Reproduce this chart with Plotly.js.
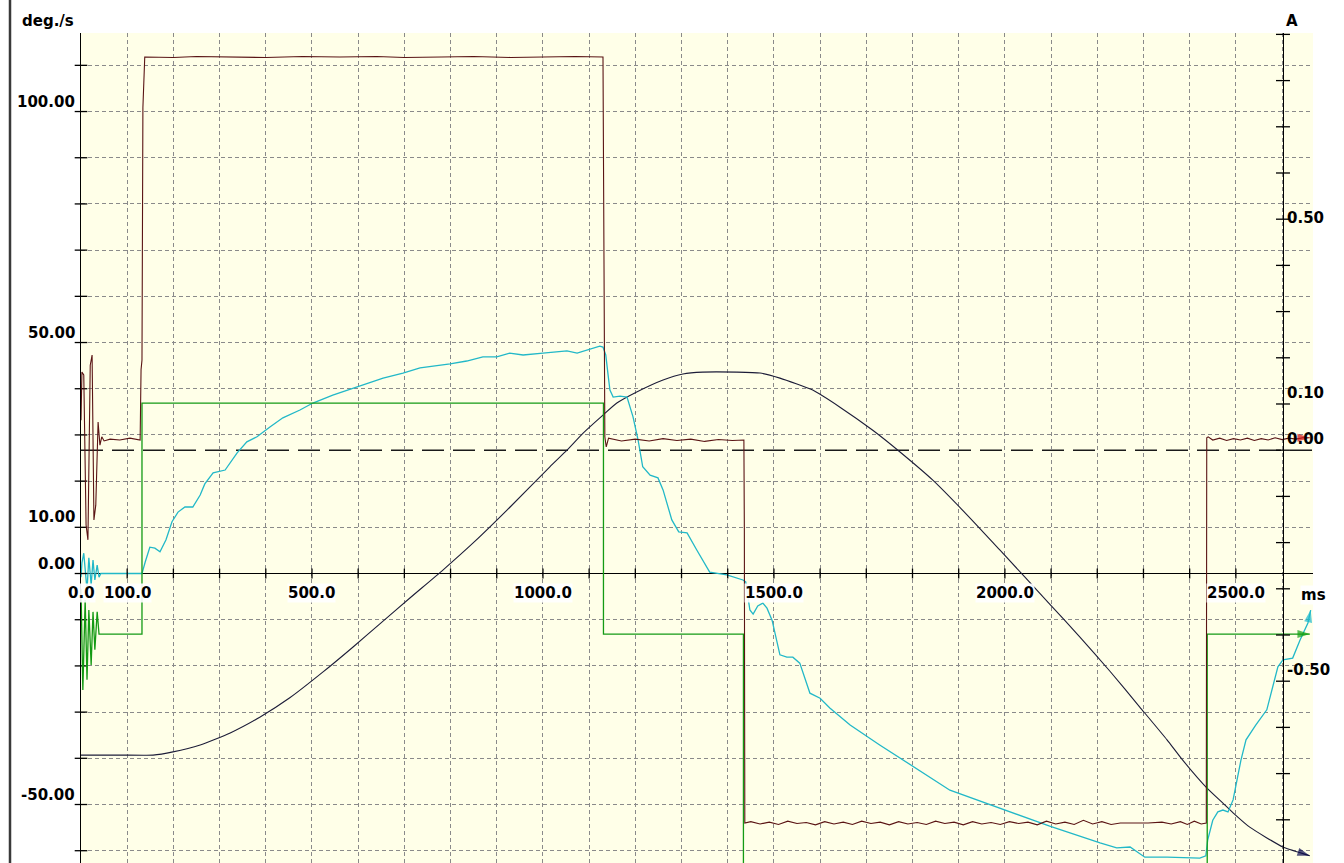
<!DOCTYPE html>
<html>
<head>
<meta charset="utf-8">
<script src="https://cdn.plot.ly/plotly-3.0.1.min.js"></script>
<style>
  html, body { margin: 0; padding: 0; background: #ffffff; }
  #chart { width: 1344px; height: 863px; }
</style>
</head>
<body>
<div id="chart"></div>
<script>
// ---------------- data (time in ms) ----------------
// Current-like square trace (right axis, A)
const maroonMs = [0,2,6,11,15,20,24,28,32,37,41,45,50,63,84,106,128,130,132,134,138,
  200,250,320,400,480,560,640,700,780,850,930,1000,1070,1130,
  1134,1137,1142,1170,1200,1230,1260,1290,1320,1350,1380,1410,1435,
  1436,1437,1450,1470,1490,1510,1530,1550,1570,1590,1610,1630,1650,1670,1690,1710,1730,1750,1770,1790,1810,1830,1850,1870,1890,1910,1930,1950,1970,1990,2010,2030,2050,2070,2090,2110,2130,2150,2170,2190,2210,2230,2250,2280,2310,2340,2360,2380,2395,2410,2425,2436,
  2437,2440,2450,2465,2480,2495,2510,2525,2540,2555,2570,2585,2600,2615,2630,2645,2660];
const maroonA = [0.065,0.169,0.163,-0.162,-0.194,0.184,0.206,-0.151,-0.119,0.061,0.011,0.029,0.020,0.024,0.022,0.026,0.022,0.174,0.195,0.741,0.851,
  0.850,0.852,0.851,0.850,0.852,0.851,0.852,0.850,0.851,0.852,0.850,0.851,0.852,0.851,
  0.029,0.007,0.026,0.020,0.024,0.020,0.025,0.021,0.024,0.019,0.023,0.021,0.022,
  -0.173,-0.807,-0.804,-0.809,-0.805,-0.810,-0.803,-0.808,-0.806,-0.811,-0.804,-0.809,-0.805,-0.810,-0.803,-0.808,-0.805,-0.811,-0.804,-0.809,-0.806,-0.810,-0.803,-0.808,-0.805,-0.811,-0.804,-0.809,-0.806,-0.810,-0.804,-0.808,-0.805,-0.811,-0.803,-0.809,-0.805,-0.810,-0.801,-0.809,-0.804,-0.810,-0.807,-0.807,-0.807,-0.805,-0.809,-0.804,-0.810,-0.803,-0.809,-0.807,
  0.027,0.029,0.022,0.026,0.021,0.025,0.022,0.026,0.021,0.025,0.022,0.027,0.023,0.026,0.024,0.027,0.027];

// Current command step trace (right axis, A)
const greenMs = [0,4,9,13,17,22,26,30,35,39,132,132,1131,1131,1434,1434,2438,2438,2660];
const greenA  = [-0.30,-0.519,-0.324,-0.497,-0.346,-0.465,-0.350,-0.432,-0.350,-0.398,-0.398,0.102,0.102,-0.398,-0.398,-1.0,-1.0,-0.398,-0.398];

// Velocity trace (left axis, deg./s)
const cyanMs = [0,2,6,11,13,17,22,26,30,35,39,43,132,139,149,160,171,184,197,210,225,242,258,268,286,312,338,359,381,409,437,474,502,545,597,626,654,697,734,799,835,870,900,928,957,1000,1052,1074,1102,1123,1130,1136,1141,1145,1152,1167,1182,1195,1206,1216,1232,1249,1260,1279,1294,1312,1333,1361,1398,1433,1439,1448,1455,1465,1476,1485,1496,1513,1528,1541,1556,1578,1600,1621,1665,1729,1881,1989,2097,2206,2242,2271,2303,2351,2422,2435,2439,2450,2461,2472,2483,2494,2511,2522,2543,2567,2591,2602,2623,2639,2656,2662];
const cyanDeg = [-0.8,2.3,4.4,-0.3,-3.6,3.4,-2.5,2.9,-1.4,1.8,-0.8,0,0,2.5,5.7,5.5,4.7,7.3,11.2,13.3,14.4,14.4,17.0,19.4,21.8,22.4,26.1,28.5,29.6,31.7,33.7,35.4,36.9,38.6,40.4,41.5,42.3,43.4,44.5,45.4,46.0,46.9,46.9,47.7,47.3,47.7,48.2,47.7,48.6,49.2,49.0,47.3,43.0,39.7,38.2,38.4,38.2,33.9,28.9,23.1,21.3,20.7,18.1,11.6,9.0,8.8,5.1,0.3,-0.3,-1.4,-1.8,-7.9,-8.8,-7.0,-6.4,-7.5,-10.1,-17.6,-18.1,-18.1,-19.4,-25.9,-27.0,-29.1,-32.8,-37.1,-46.9,-50.8,-54.7,-58.3,-59.4,-59.2,-61.4,-61.4,-61.6,-61.1,-57.7,-53.4,-51.6,-51.2,-51.6,-49.0,-40.4,-36.0,-32.8,-29.5,-20.2,-18.7,-18.3,-14.4,-10.7,-7.9];

// Position-like smooth trace (left axis scale)
const navyMs = [0,84,156,199,258,323,387,452,524,589,647,712,784,853,929,1015,1052,1087,1130,1160,1203,1260,1303,1346,1420,1470,1513,1584,1643,1714,1773,1844,1918,1989,2097,2162,2227,2292,2351,2385,2437,2472,2494,2530,2602,2654,2660];
const navyVal = [-39.3,-39.3,-39.3,-38.6,-37.1,-34.5,-31.1,-26.9,-21.3,-15.9,-10.9,-5.3,0.8,7.0,14.4,23.1,26.7,30.4,34.3,36.9,39.3,41.9,43.2,43.6,43.6,43.4,42.3,39.7,36.0,31.0,26.3,20.2,12.7,5.1,-6.6,-13.7,-21.1,-28.9,-36.0,-40.4,-46.4,-49.7,-51.8,-54.9,-59.2,-60.9,-61.1];

// axis ticks and labels
const xTickMs = [100,200,300,400,500,600,700,800,900,1000,1100,1200,1300,1400,1500,1600,1700,1800,1900,2000,2100,2200,2300,2400,2500];
const xLabelMs = [0,100,500,1000,1500,2000,2500];
const xLabelText = ['0.0','100.0','500.0','1000.0','1500.0','2000.0','2500.0'];
const leftTicks = [-60,-50,-40,-30,-20,-10,0,10,20,30,40,50,60,70,80,90,100,110];
const leftLabelVals = [100,50,10,0,-50];
const leftLabelText = ['100.00','50.00','10.00','0.00','-50.00'];
const rightTicks = [-0.8,-0.7,-0.6,-0.5,-0.4,-0.3,-0.2,-0.1,0,0.1,0.2,0.3,0.4,0.5,0.6,0.7,0.8,0.9];
const rightLabelVals = [0.5,0.1,0.0,-0.5];
const rightLabelText = ['0.50','0.10','0.00','-0.50'];

// ---------------- layout geometry ----------------
const W = 1344, H = 863;
const M = {l: 81, r: 31, t: 33, b: 0};
const plotW = W - M.l - M.r, plotH = H - M.t - M.b;
const X_RANGE = [0, 2667];
const Y_RANGE = [-62.66, 117.0];
const Y2_RANGE = [-0.8935, 0.903];
const RIGHT_AXIS_MS = 2602;
const rightAxisPos = (RIGHT_AXIS_MS - X_RANGE[0]) / (X_RANGE[1] - X_RANGE[0]);
const pxX = px => (px - M.l) / plotW;      // paper x from pixel
const pxY = py => (H - M.b - py) / plotH;  // paper y from pixel

const FONT = {family: 'DejaVu Sans, Arial, sans-serif', size: 15, color: '#000000', weight: 'bold'};

function arrowSizes(arr, s) { return arr.map((v, i) => i === arr.length - 1 ? s : 0); }

const traces = [
  {x: greenMs, y: greenA, yaxis: 'y2', type: 'scatter', mode: 'lines+markers',
   line: {color: '#149a14', width: 1.3},
   marker: {symbol: 'arrow', angleref: 'previous', size: arrowSizes(greenMs, 13), color: '#10a010', line: {width: 0}},
   cliponaxis: false, hoverinfo: 'skip'},
  {x: maroonMs, y: maroonA, yaxis: 'y2', type: 'scatter', mode: 'lines+markers',
   line: {color: '#5a1414', width: 1.1},
   marker: {symbol: 'arrow', angleref: 'previous', size: arrowSizes(maroonMs, 13), color: '#d01010', line: {width: 0}},
   cliponaxis: false, hoverinfo: 'skip'},
  {x: navyMs, y: navyVal, type: 'scatter', mode: 'lines+markers',
   line: {color: '#1c1c38', width: 1.1, shape: 'spline', smoothing: 0.5},
   marker: {symbol: 'arrow', angleref: 'previous', size: arrowSizes(navyMs, 13), color: '#0c0c50', line: {width: 0}},
   cliponaxis: false, hoverinfo: 'skip'},
  {x: cyanMs, y: cyanDeg, type: 'scatter', mode: 'lines+markers',
   line: {color: '#22b8c8', width: 1.3},
   marker: {symbol: 'arrow', angleref: 'previous', size: arrowSizes(cyanMs, 13), color: '#18b8cc', line: {width: 0}},
   cliponaxis: false, hoverinfo: 'skip'},
  // axis tick marks (crossing style)
  {x: xTickMs, y: xTickMs.map(() => 0), type: 'scatter', mode: 'markers',
   marker: {symbol: 'line-ns', size: 7, line: {width: 1.3, color: '#000000'}},
   cliponaxis: false, hoverinfo: 'skip'},
  {x: leftTicks.map(() => X_RANGE[0]), y: leftTicks, type: 'scatter', mode: 'markers',
   marker: {symbol: 'line-ew', size: 9, line: {width: 1.3, color: '#000000'}},
   cliponaxis: false, hoverinfo: 'skip'},
  {x: rightTicks.map(() => RIGHT_AXIS_MS), y: rightTicks, yaxis: 'y2', type: 'scatter', mode: 'markers',
   marker: {symbol: 'line-ew', size: 10, line: {width: 1.3, color: '#000000'}},
   cliponaxis: false, hoverinfo: 'skip'}
];

const annotations = [];
xLabelMs.forEach((v, i) => annotations.push({
  x: v, y: 0, xref: 'x', yref: 'y', text: xLabelText[i], showarrow: false,
  xanchor: 'center', yanchor: 'top', yshift: -9, font: FONT, bgcolor: 'rgba(255,255,255,0.9)', borderpad: 0
}));
leftLabelVals.forEach((v, i) => annotations.push({
  x: pxX(76), y: v, xref: 'paper', yref: 'y', text: leftLabelText[i], showarrow: false,
  xanchor: 'right', yanchor: 'bottom', yshift: 0, font: FONT, borderpad: 0
}));
rightLabelVals.forEach((v, i) => annotations.push({
  x: RIGHT_AXIS_MS, y: v, xref: 'x', yref: 'y2', text: rightLabelText[i], showarrow: false,
  xanchor: 'left', yanchor: v === 0.5 ? 'middle' : 'bottom', xshift: 3, yshift: v === 0.5 ? 1 : 1, font: FONT, borderpad: 0
}));
annotations.push({x: pxX(48), y: pxY(21), xref: 'paper', yref: 'paper', text: 'deg./s', showarrow: false,
  xanchor: 'center', yanchor: 'middle', font: FONT});
annotations.push({x: pxX(1292), y: pxY(21), xref: 'paper', yref: 'paper', text: 'A', showarrow: false,
  xanchor: 'center', yanchor: 'middle', font: FONT});
annotations.push({x: pxX(1314), y: 0, xref: 'paper', yref: 'y', text: 'ms', showarrow: false,
  xanchor: 'center', yanchor: 'top', yshift: -11, font: FONT, bgcolor: 'rgba(255,255,255,0.9)', borderpad: 0});

const gridStyle = {showgrid: true, gridcolor: '#8a8a8a', gridwidth: 1, griddash: '4px,3px'};

const layout = {
  width: W, height: H,
  margin: {l: M.l, r: M.r, t: M.t, b: M.b, pad: 0},
  paper_bgcolor: '#ffffff',
  plot_bgcolor: '#ffffe8',
  showlegend: false,
  xaxis: Object.assign({range: X_RANGE, tick0: 0, dtick: 100, zeroline: false, showline: false,
    showticklabels: false, ticks: '', fixedrange: true}, gridStyle),
  yaxis: Object.assign({range: Y_RANGE, tick0: 0, dtick: 10, zeroline: true, zerolinecolor: '#000000', zerolinewidth: 1.5,
    showline: true, linecolor: '#000000', linewidth: 1.5, showticklabels: false, ticks: '', fixedrange: true}, gridStyle),
  yaxis2: {range: Y2_RANGE, overlaying: 'y', anchor: 'free', position: rightAxisPos, side: 'right',
    showgrid: false, zeroline: false, showline: true, linecolor: '#000000', linewidth: 1.5,
    showticklabels: false, ticks: '', fixedrange: true},
  shapes: [
    {type: 'line', xref: 'paper', yref: 'y2', x0: 0, x1: 1, y0: 0, y1: 0,
     line: {color: '#1a1a1a', width: 1.5, dash: '22px,9px'}, layer: 'below'},
    {type: 'line', xref: 'paper', yref: 'paper', x0: pxX(10), x1: pxX(10), y0: pxY(H), y1: pxY(0),
     line: {color: '#3a3a3a', width: 2.5}}
  ],
  annotations: annotations
};

Plotly.newPlot('chart', traces, layout, {displayModeBar: false, staticPlot: true});
</script>
</body>
</html>
